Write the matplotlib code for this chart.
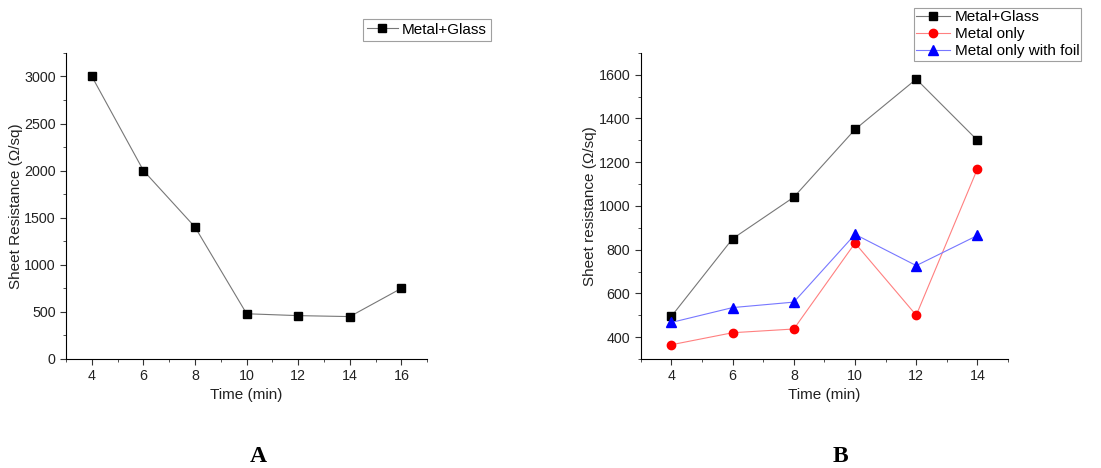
import matplotlib
matplotlib.use("Agg")
import matplotlib.pyplot as plt
from matplotlib.ticker import MultipleLocator

plt.rcParams["font.family"] = ["Liberation Sans", "DejaVu Sans"]

# Panel A data
time_a = [4, 6, 8, 10, 12, 14, 16]
glass_a = [3000, 2000, 1400, 480, 460, 450, 750]

# Panel B data
time_b = [4, 6, 8, 10, 12, 14]
glass_b = [495, 850, 1040, 1350, 1580, 1300]
metal_b = [365, 420, 437, 830, 500, 1170]
foil_b = [467, 535, 560, 870, 727, 865]

fig = plt.figure(figsize=(11.01, 4.68), dpi=100)
axA = fig.add_axes([0.060, 0.233, 0.328, 0.654])
axB = fig.add_axes([0.582, 0.233, 0.3336, 0.654])


def style(ax):
    for s in ["top", "right"]:
        ax.spines[s].set_visible(False)
    ax.tick_params(which="both", direction="out", labelsize=10.3, color="#333333",
                   labelcolor="#222222")
    ax.tick_params(which="major", length=4)
    ax.tick_params(which="minor", length=2.5)
    ax.set_xlabel("Time (min)", fontsize=11, color="#222222", labelpad=3)


# Panel A
axA.plot(time_a, glass_a, color="#777777", lw=0.8, marker="s", ms=6,
         mfc="black", mec="black", label="Metal+Glass")
axA.set_xlim(3, 17)
axA.set_ylim(0, 3250)
axA.xaxis.set_major_locator(MultipleLocator(2))
axA.xaxis.set_minor_locator(MultipleLocator(1))
axA.yaxis.set_major_locator(MultipleLocator(500))
axA.yaxis.set_minor_locator(MultipleLocator(250))
axA.set_ylabel("Sheet Resistance (\u03a9/sq)", fontsize=11, color="#222222", labelpad=1)
style(axA)
legA = axA.legend(loc="upper left", bbox_to_anchor=(0.823, 1.111), fontsize=11,
                  frameon=True, fancybox=False, borderpad=0.25, handlelength=2.0,
                  handletextpad=0.3, borderaxespad=0)
legA.get_frame().set_edgecolor("#888888")
legA.get_frame().set_linewidth(0.8)

# Panel B
axB.plot(time_b, glass_b, color="#777777", lw=0.8, marker="s", ms=6,
         mfc="black", mec="black", label="Metal+Glass")
axB.plot(time_b, metal_b, color="#ff8080", lw=0.8, marker="o", ms=6,
         mfc="red", mec="red", label="Metal only")
axB.plot(time_b, foil_b, color="#7777ff", lw=0.8, marker="^", ms=6.5,
         mfc="blue", mec="blue", label="Metal only with foil")
axB.set_xlim(3, 15)
axB.set_ylim(300, 1700)
axB.xaxis.set_major_locator(MultipleLocator(2))
axB.xaxis.set_minor_locator(MultipleLocator(1))
axB.yaxis.set_major_locator(MultipleLocator(200))
axB.yaxis.set_minor_locator(MultipleLocator(100))
axB.set_ylabel("Sheet resistance (\u03a9/sq)", fontsize=11, color="#222222", labelpad=1)
style(axB)
legB = axB.legend(loc="upper left", bbox_to_anchor=(0.744, 1.147), fontsize=11,
                  frameon=True, fancybox=False, borderpad=0.15, handlelength=2.2,
                  handletextpad=0.3, labelspacing=0.2, borderaxespad=0)
legB.get_frame().set_edgecolor("#888888")
legB.get_frame().set_linewidth(0.8)

fig.text(258 / 1101, 1 - 457 / 468, "A", ha="center", va="center",
         fontsize=17, fontweight="bold", family=["Liberation Serif", "DejaVu Serif"])
fig.text(840 / 1101, 1 - 457 / 468, "B", ha="center", va="center",
         fontsize=17, fontweight="bold", family=["Liberation Serif", "DejaVu Serif"])

fig.savefig("out.png", dpi=100)
